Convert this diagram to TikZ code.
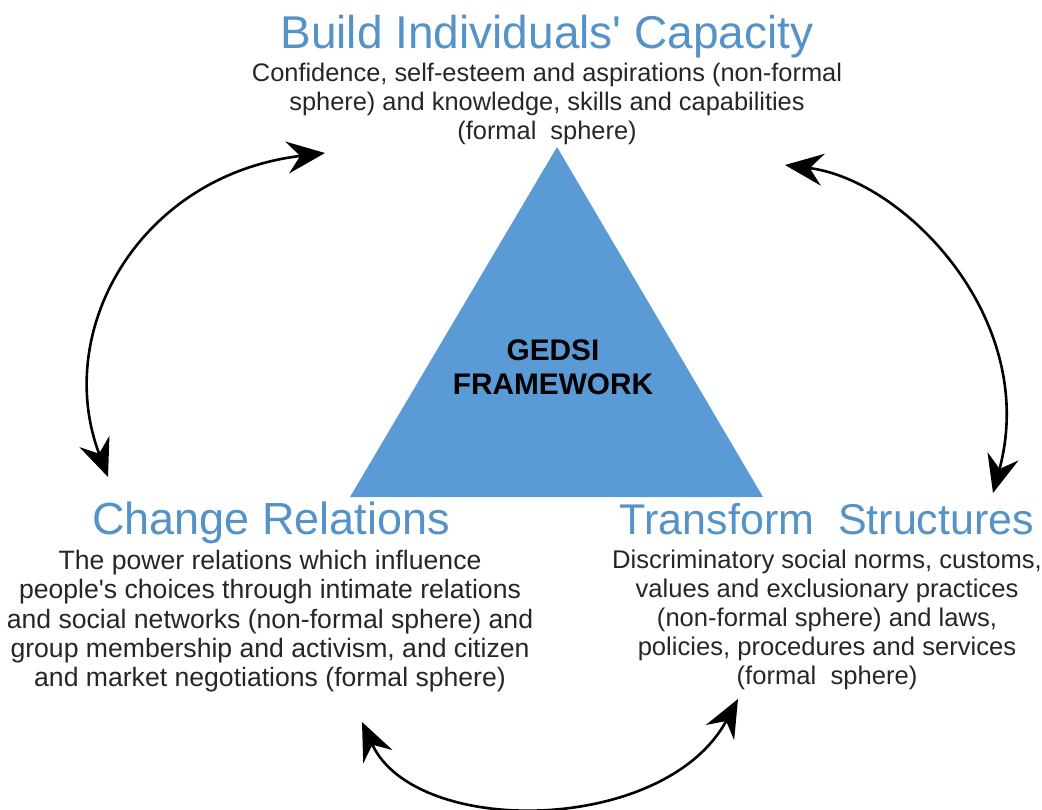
\documentclass[tikz,border=0pt]{standalone}
\usepackage{fontspec}
\setmainfont{Liberation Sans}
\usetikzlibrary{arrows.meta}
\definecolor{headblue}{RGB}{84,146,199}
\definecolor{triblue}{RGB}{91,155,213}
\definecolor{bodygray}{RGB}{38,38,38}
\tikzstyle{heading} = [text=headblue, inner sep=0pt, anchor=base]
\tikzstyle{body} = [text=bodygray, align=center, inner sep=0pt, anchor=north]
\tikzstyle{cyclearrow} = [{Stealth[length=38pt,width=32pt,inset=13pt]}-{Stealth[length=38pt,width=32pt,inset=13pt]}, line width=2.6pt, black]

\begin{document}
\begin{tikzpicture}[x=1pt, y=-1pt]
    \useasboundingbox (0,0) rectangle (1042,809);
    % triangle in the middle
    \coordinate (apex) at (557,147);
    \coordinate (bl) at (350,497);
    \coordinate (br) at (763,497);
    \fill[triblue] (apex) -- (bl) -- (br) -- cycle;
    \node[font=\fontsize{29.8}{34}\selectfont\bfseries, align=center, inner sep=0pt] (gedsi) at (553,367) {GEDSI\\FRAMEWORK};

    % the three spheres
    \node[heading, font=\fontsize{46}{50}\selectfont] (build) at (547,48) {Build Individuals\textquotesingle\ Capacity};
    \node[body, font=\fontsize{25.4}{29}\selectfont] (buildtxt) at (547,63) {Confidence, self-esteem and aspirations (non-formal\\sphere) and knowledge, skills and capabilities\\(formal\ \ sphere)};
    \node[heading, font=\fontsize{45}{50}\selectfont] (change) at (271,534) {Change Relations};
    \node[body, font=\fontsize{26.6}{29.3}\selectfont] (changetxt) at (270,550) {The power relations which influence\\people\textquotesingle s choices through intimate relations\\and social networks (non-formal sphere) and\\group membership and activism, and citizen\\and market negotiations (formal sphere)};
    \node[heading, font=\fontsize{43}{50}\selectfont] (transform) at (827,534) {Transform\ \ Structures};
    \node[body, font=\fontsize{25.6}{29}\selectfont] (transformtxt) at (827,550) {Discriminatory social norms, customs,\\values and exclusionary practices\\(non-formal sphere) and laws,\\policies, procedures and services\\(formal\ \ sphere)};

    % arrows between them
    \coordinate (l1) at (108,477);
    \coordinate (l2) at (325,153);
    \coordinate (r1) at (785,165);
    \coordinate (r2) at (993,493);
    \coordinate (b1) at (362,722);
    \coordinate (b2) at (738,699);
    \draw[cyclearrow] (l1) .. controls (52,330) and (140,175) .. (l2);
    \draw[cyclearrow] (r1) .. controls (905,180) and (1040,320) .. (r2);
    \draw[cyclearrow] (b1) .. controls (415,838) and (665,835) .. (b2);
\end{tikzpicture}
\end{document}
